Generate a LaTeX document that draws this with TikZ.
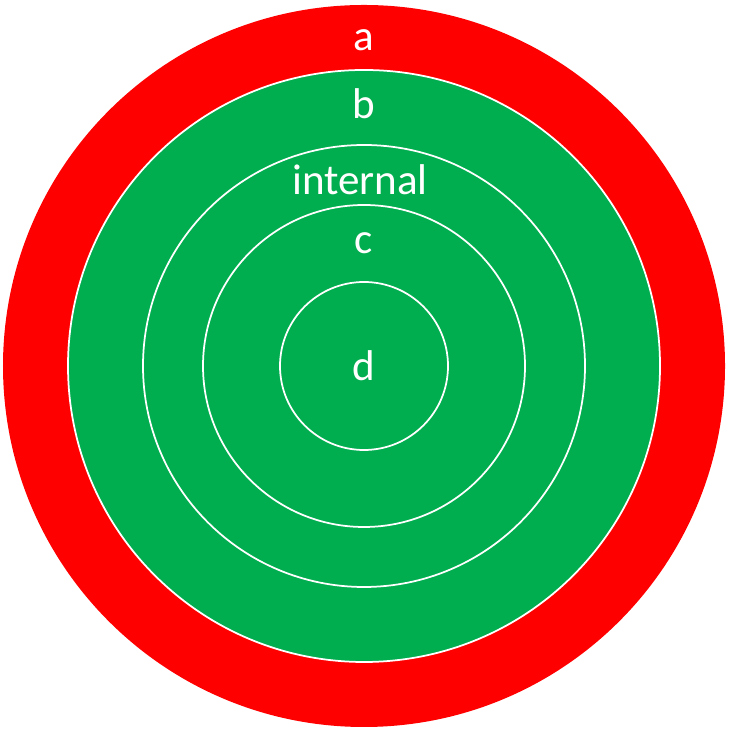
\documentclass[tikz,border=0pt]{standalone}
\usepackage{fontspec}
\setmainfont{Carlito}
\definecolor{ringred}{RGB}{255,0,0}
\definecolor{ringgreen}{RGB}{0,173,79}
\tikzset{
    ring/.style={circle, inner sep=0pt, outer sep=0pt, draw=white, line width=0.035cm},
    lbl/.style={anchor=base, text=white, inner sep=0pt, font=\fontsize{24.5}{29}\selectfont},
}
\begin{document}
\begin{tikzpicture}
        \useasboundingbox (0, 0) rectangle (14.58, 14.62);
        \coordinate (mid) at (7.28, 7.30);
        \node[circle, inner sep=0pt, fill=ringred, minimum size=14.44cm] (outer) at (mid) {};
        \node[ring, fill=ringgreen, minimum size=11.84cm] (green) at (mid) {};
        \node[ring, minimum size=8.84cm] (internal) at (mid) {};
        \node[ring, minimum size=6.44cm] (cring) at (mid) {};
        \node[ring, minimum size=3.36cm] (dring) at (mid) {};
        \node[lbl] (a) at ([yshift=6.30cm]mid) {a};
        \node[lbl] (b) at ([yshift=4.94cm]mid) {b};
        \node[lbl] (int) at ([xshift=-0.08cm, yshift=3.42cm]mid) {internal};
        \node[lbl] (c) at ([yshift=2.24cm]mid) {c};
        \node[lbl] (d) at ([yshift=-0.30cm]mid) {d};
    \end{tikzpicture}
\end{document}
